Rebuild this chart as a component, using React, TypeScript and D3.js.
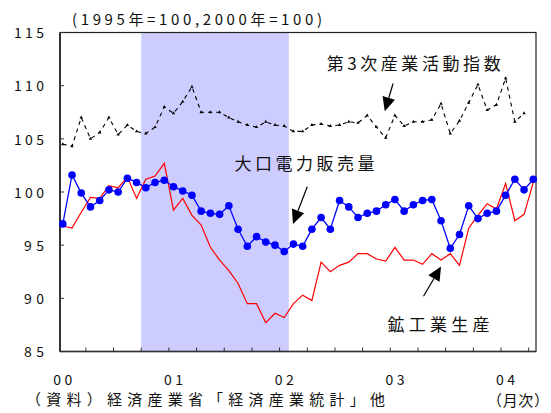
import { line, scaleLinear, symbol, symbolTriangle } from "d3";

// 2000/01 .. 2004/04 monthly
const yearLabels = ["00", "01", "02", "03", "04"];
const yTicks = [85, 90, 95, 100, 105, 110, 115];
const shadedPeriod = ["2000-10", "2002-01"];

// 第3次産業活動指数 (ends 2004/03)
const tertiaryIndex = [
  104.5, 104.3, 107.0, 105.0, 105.6, 107.0, 105.4, 106.3, 105.7, 105.5, 106.1, 108.0,
  107.4, 108.5, 109.9, 107.5, 107.5, 107.5, 107.0, 106.6, 106.3, 106.1, 106.6, 106.3,
  106.2, 105.7, 105.7, 106.3, 106.4, 106.2, 106.3, 106.6, 106.5, 107.2, 106.1, 105.1,
  107.2, 106.2, 106.6, 106.6, 106.8, 108.3, 105.5, 106.7, 108.4, 110.1, 107.7, 108.2,
  110.7, 106.6, 107.4,
];

// 大口電力販売量
const largePowerSales = [
  97.0, 101.6, 99.9, 98.6, 99.2, 100.2, 100.0, 101.3, 100.9, 100.4, 100.9, 101.1,
  100.5, 100.1, 99.7, 98.2, 98.0, 97.9, 98.7, 96.5, 94.9, 95.8, 95.3, 95.0,
  94.4, 95.1, 94.9, 96.5, 97.6, 96.5, 99.2, 98.6, 97.6, 98.0, 98.2, 98.8,
  99.3, 98.2, 98.8, 99.2, 99.3, 97.3, 94.7, 96.0, 98.7, 97.5, 98.0, 98.2,
  99.7, 101.2, 100.2, 101.2,
];

// 鉱工業生産
const industrialProduction = [
  96.8, 96.6, 98.1, 99.5, 99.4, 100.6, 100.4, 101.4, 99.4, 101.2, 101.5, 102.7,
  98.3, 99.4, 97.8, 96.9, 94.8, 93.6, 92.6, 91.4, 89.5, 89.5, 87.7, 88.6,
  88.2, 89.5, 90.3, 89.8, 93.4, 92.5, 93.1, 93.4, 94.2, 94.2, 93.7, 93.5,
  94.8, 93.6, 93.6, 93.2, 94.2, 93.6, 94.2, 93.1, 96.6, 97.8, 98.9, 98.4,
  100.8, 97.3, 97.9, 100.9,
];

// labels and arrows, in (month index, value)
const seriesLabels = [
  { text: "第3次産業活動指数", at: [28.6, 111.5], len: 174 },
  { text: "大口電力販売量", at: [18.6, 102.1], len: 140 },
  { text: "鉱工業生産", at: [35.2, 86.9], len: 102 },
];
const arrows = [
  { from: [35.8, 110.2], to: [34.9, 107.6] },
  { from: [26.5, 100.5], to: [24.95, 97.0] },
  { from: [39.1, 90.2], to: [41.0, 93.0] },
];

const font = "'Noto Sans CJK JP', 'Noto Sans', sans-serif";

const monthIndex = (ym: string) => {
  const [yy, mm] = ym.split("-").map(Number);
  return (yy - 2000) * 12 + mm - 1;
};

export default function App() {
  const width = 551;
  const height = 413;
  const left = 60;
  const right = 536;
  const top = 32.5;
  const bottom = 351.5;

  const x = scaleLinear().domain([0, largePowerSales.length - 1]).range([62.8, 533.3]);
  const y = scaleLinear().domain([85, 115]).range([bottom, top]);

  const path = line<number>()
    .x((_, i) => x(i))
    .y((v) => y(v));

  const tri = symbol().type(symbolTriangle).size(5)();

  const tickIdx: number[] = [];
  for (let k = 3; k < largePowerSales.length; k += 3) tickIdx.push(k - 0.5);

  const shadeX0 = x(monthIndex(shadedPeriod[0]) - 0.5);
  const shadeX1 = x(monthIndex(shadedPeriod[1]) + 0.5);

  return (
    <svg
      width={width}
      height={height}
      style={{ position: "absolute", left: 0, top: 0, background: "#fff" }}
    >
      <rect x={shadeX0} y={top} width={shadeX1 - shadeX0} height={bottom - top} fill="#ccccff" />

      {/* frame */}
      <rect x={left} y={top} width={right - left} height={bottom - top} fill="none" stroke="#222" strokeWidth="1.2" />
      <line x1={left} x2={left} y1={top} y2={bottom} stroke="#333" strokeWidth="2" />
      <line x1={left} x2={right} y1={bottom} y2={bottom} stroke="#333" strokeWidth="1.6" />

      {yTicks.map((t) => (
        <g key={t}>
          <line x1={left} x2={left + 4} y1={y(t)} y2={y(t)} stroke="#333" strokeWidth="1" />
          <text
            x={44}
            y={y(t) + 2}
            textAnchor="end"
            dominantBaseline="middle"
            fontFamily={font}
            fontSize="14"
            fill="#111"
            textLength={String(t).length * 10}
            lengthAdjust="spacing"
          >
            {t}
          </text>
        </g>
      ))}

      {tickIdx.map((t) => (
        <line key={t} x1={x(t)} x2={x(t)} y1={bottom} y2={bottom - 4} stroke="#333" strokeWidth="1" />
      ))}

      {yearLabels.map((lab, i) => (
        <text
          key={lab}
          x={x(i * 12)}
          y={381}
          textAnchor="middle"
          dominantBaseline="middle"
          fontFamily={font}
          fontSize="14"
          fill="#111"
          textLength={19}
          lengthAdjust="spacing"
        >
          {lab}
        </text>
      ))}

      {/* series */}
      <path d={path(industrialProduction) ?? ""} fill="none" stroke="#ff0000" strokeWidth="1.2" />

      <path
        d={path(tertiaryIndex) ?? ""}
        fill="none"
        stroke="#000"
        strokeWidth="1.1"
        strokeDasharray="4 4"
      />
      {tertiaryIndex.map((v, i) => (
        <path key={i} d={tri ?? ""} transform={`translate(${x(i)},${y(v)})`} fill="#000" />
      ))}

      <path d={path(largePowerSales) ?? ""} fill="none" stroke="#0000ff" strokeWidth="1.3" />
      {largePowerSales.map((v, i) => (
        <circle key={i} cx={x(i)} cy={y(v)} r="3.8" fill="#0000ff" />
      ))}

      {/* arrows */}
      {arrows.map((a, i) => {
        const x1 = x(a.from[0]);
        const y1 = y(a.from[1]);
        const x2 = x(a.to[0]);
        const y2 = y(a.to[1]);
        const ang = Math.atan2(y2 - y1, x2 - x1);
        const len = 14;
        const half = 6.5;
        const bx = x2 - len * Math.cos(ang);
        const by = y2 - len * Math.sin(ang);
        const px = -Math.sin(ang) * half;
        const py = Math.cos(ang) * half;
        return (
          <g key={i}>
            <line x1={x1} y1={y1} x2={bx} y2={by} stroke="#000" strokeWidth="1.2" />
            <polygon points={`${x2},${y2} ${bx + px},${by + py} ${bx - px},${by - py}`} fill="#000" />
          </g>
        );
      })}

      {seriesLabels.map((l) => (
        <text
          key={l.text}
          x={x(l.at[0])}
          y={y(l.at[1])}
          fontFamily={font}
          fontSize="17"
          fill="#111"
          textLength={l.len}
          lengthAdjust="spacing"
        >
          {l.text}
        </text>
      ))}

      <text x={72} y={25} fontFamily={font} fontSize="15" fill="#111" textLength={250} lengthAdjust="spacing">
        (1995年=100,2000年=100)
      </text>
      <text x={26} y={405} fontFamily={font} fontSize="15" fill="#111" textLength={359} lengthAdjust="spacing">
        （資料）経済産業省「経済産業統計」他
      </text>
      <text x={487} y={406} fontFamily={font} fontSize="15" fill="#111" textLength={62} lengthAdjust="spacing">
        （月次）
      </text>
    </svg>
  );
}
